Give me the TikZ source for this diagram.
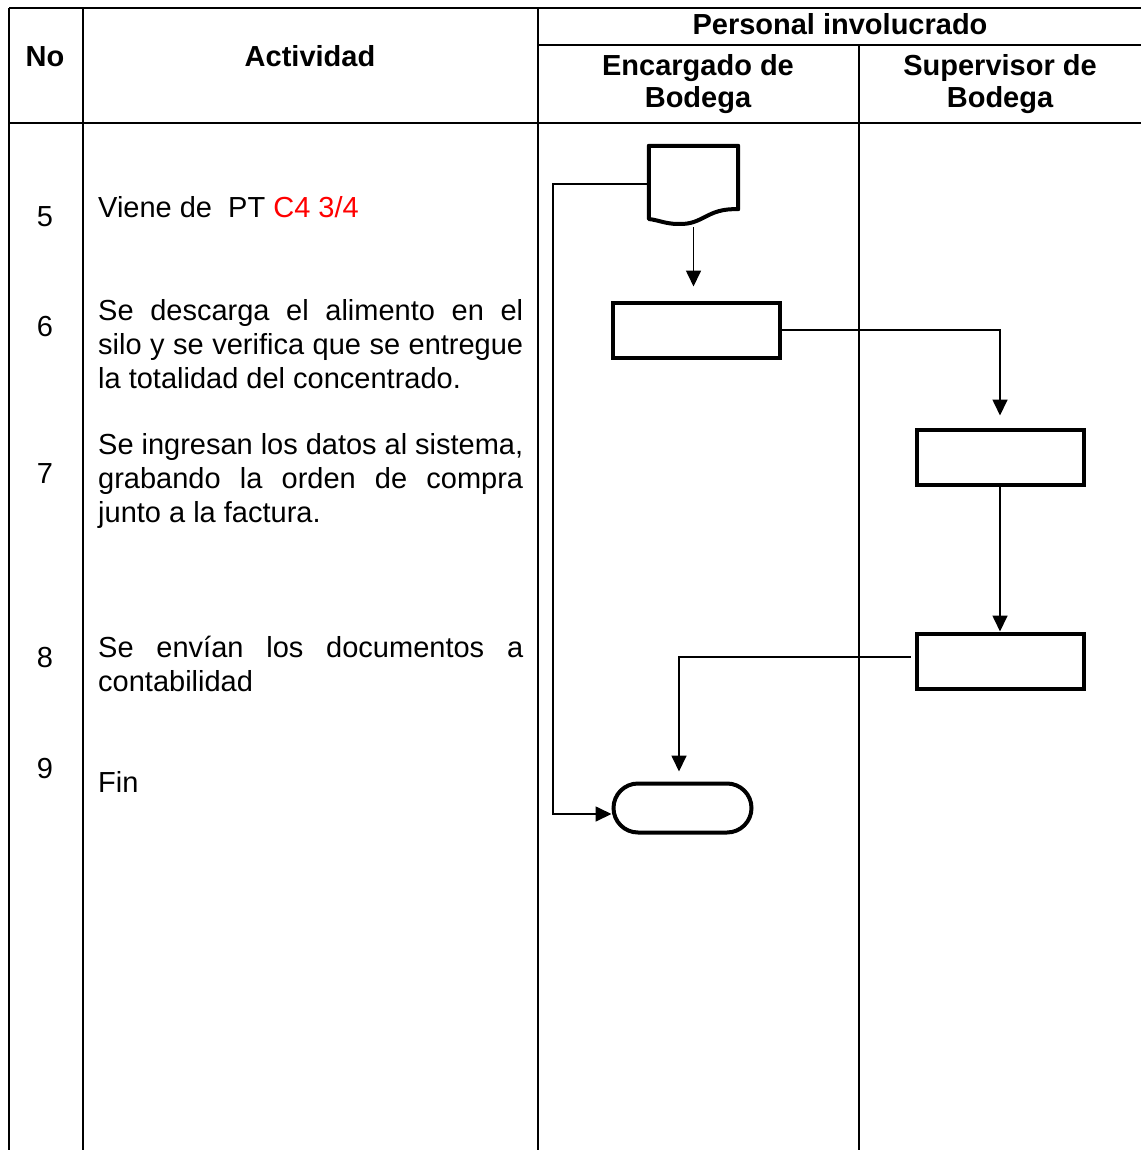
\documentclass[tikz,border=0pt]{standalone}
\usepackage{fontspec}
\setmainfont{Liberation Sans}
\usetikzlibrary{arrows.meta,calc,shapes.misc}

\begin{document}
\begin{tikzpicture}[x=1pt,y=-1pt,
  grid/.style={line width=2pt},
  conn/.style={line width=1.7pt},
  arr/.style={conn,-{Triangle[length=16pt,width=15pt]}},
  procbox/.style={draw,line width=4pt,minimum width=167pt,minimum height=55pt,inner sep=0pt},
  termbox/.style={draw,rounded rectangle,line width=4pt,minimum width=138pt,minimum height=49pt,inner sep=0pt},
  body/.style={font=\fontsize{29}{34}\selectfont,inner sep=0pt},
  para/.style={body,text width=425pt,align=justify,anchor=base west},
  num/.style={body,anchor=base},
  hdr/.style={font=\fontsize{29}{32}\selectfont\bfseries,inner sep=0pt,align=center}]

\useasboundingbox (0,0) rectangle (1141,1150);

% table grid
\draw[grid] (9,8) -- (1141,8);
\draw[grid] (538,45) -- (1141,45);
\draw[grid] (9,123) -- (1141,123);
\draw[grid] (9,8) -- (9,1150);
\draw[grid] (83,8) -- (83,1150);
\draw[grid] (538,8) -- (538,1150);
\draw[grid] (859,45) -- (859,1150);

% header texts
\node[hdr,anchor=base] (hno) at (45,67) {No};
\node[hdr,anchor=base] (hact) at (310,67) {Actividad};
\node[hdr,anchor=base] (hpers) at (840,35) {Personal involucrado};
\node[hdr] (henc) at (698,84) {Encargado de\\Bodega};
\node[hdr] (hsup) at (1000,84) {Supervisor de\\Bodega};

% step numbers
\node[num] (n5) at (45,226) {5};
\node[num] (n6) at (45,336) {6};
\node[num] (n7) at (45,483) {7};
\node[num] (n8) at (45,667) {8};
\node[num] (n9) at (45,778) {9};

% activity descriptions
\node[para] (a5) at (98,218) {Viene de\ \ PT \textcolor{red}{C4 3/4}};
\node[para] (a6) at (98,320) {Se descarga el alimento en el\linebreak silo y se verifica que se entregue\linebreak la totalidad del concentrado.};
\node[para] (a7) at (98,454) {Se ingresan los datos al sistema,\linebreak grabando la orden de compra\linebreak junto a la factura.};
\node[para] (a8) at (98,657) {Se envían los documentos a\linebreak contabilidad};
\node[para] (a9) at (98,792) {Fin};

% flowchart symbols
\node[minimum width=89pt,minimum height=63pt,inner sep=0pt] (doc) at (693.5,177.5) {};
\draw[line width=4pt,line join=round]
  (doc.south west) -- (doc.north west) -- (doc.north east) -- (doc.south east)
  .. controls (706,208) and (704,225) .. (678,224)
  .. controls (666,224) and (658,220) .. (doc.south west |- 0,219) -- cycle;
\node[procbox] (box1) at (696,330) {};
\node[procbox] (box2) at (1000,457) {};
\node[procbox] (box3) at (1000,661) {};
\node[termbox] (term) at (682.5,808) {};

% connectors
\draw[arr] ($(doc.north west)!0.6!(doc.south west)$) -- ++(-96,0) |- ([yshift=-6pt]term.west);
\draw[arr] ([yshift=-50pt]doc.center) -- ([yshift=14pt]doc.center |- box1.north);
\draw[arr] (box1.east) -| ([yshift=12pt]box2.north);
\draw[arr] (box2.south) -- (box3.north);
\draw[arr] ([xshift=-4pt,yshift=4pt]box3.west) -| ([xshift=-3.5pt,yshift=10pt]term.north);

\end{tikzpicture}
\end{document}
